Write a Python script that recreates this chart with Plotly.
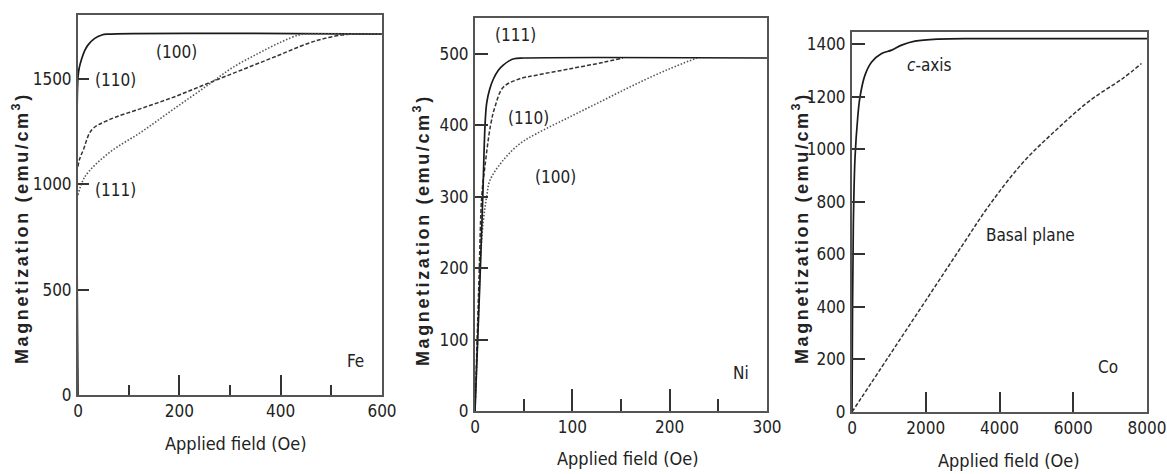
import plotly.graph_objects as go

# ---------------- data ----------------
# Fe panel
fe_h_100 = [0, 0, 3, 7, 13, 20, 33, 47, 58, 600]
fe_m_100 = [0, 1510, 1560, 1595, 1635, 1663, 1694, 1710, 1714, 1714]
fe_h_110 = [0, 3, 10.5, 27, 60, 126, 191, 257, 323, 389, 454, 487, 520, 540, 600]
fe_m_110 = [1085, 1120, 1164, 1259, 1306, 1362, 1417, 1481, 1544, 1607, 1670, 1694, 1710, 1714, 1714]
fe_h_111 = [0, 13.8, 60, 126, 191, 257, 303, 356, 402, 435, 448, 600]
fe_m_111 = [950, 1037, 1148, 1251, 1362, 1473, 1552, 1623, 1678, 1710, 1714, 1714]

# Ni panel
ni_h_111 = [0, 5, 8, 10.3, 12, 15, 19, 24, 29, 35, 40, 50, 300]
ni_m_111 = [0, 180, 300, 400, 431, 450, 465, 477, 484, 490, 493, 494, 494]
ni_h_110 = [0, 4, 6.9, 10, 16, 20.6, 29, 46, 63, 98, 132, 152]
ni_m_110 = [0, 180, 300, 340, 400, 426, 453, 465, 470, 479, 488, 494]
ni_h_100 = [0, 3, 6, 8.6, 12, 15.4, 29, 46, 63, 98, 132, 166, 200, 228]
ni_m_100 = [0, 110, 220, 267, 300, 323, 351, 374, 388, 412, 435, 458, 479, 494]

# Co panel
co_h_c = [0, 15, 36, 81, 153, 217, 352, 533, 804, 1075, 1346, 1707, 2339, 3420, 8000]
co_m_c = [0, 400, 711, 965, 1117, 1199, 1282, 1332, 1364, 1377, 1396, 1411, 1419, 1421, 1421]
co_h_basal = [0, 1000, 2000, 3000, 3740, 4640, 5550, 6450, 7350, 7850]
co_m_basal = [0, 212, 424, 636, 790, 950, 1075, 1185, 1270, 1326]

# tick values
fe_yticks = [0, 500, 1000, 1500]
fe_xticks = [0, 200, 400, 600]
ni_yticks = [0, 100, 200, 300, 400, 500]
ni_xticks = [0, 100, 200, 300]
co_yticks = [0, 200, 400, 600, 800, 1000, 1200, 1400]
co_xticks = [0, 2000, 4000, 6000, 8000]

# ---------------- layout helpers ----------------
W, H = 1167, 474


def px_x(p):
    return p / W


def px_y(p):
    return 1 - p / H


NARROW = "DejaVu Sans Condensed, Roboto Condensed, Liberation Sans Narrow, Roboto, sans-serif"
BOLD = "Liberation Sans, Arial, sans-serif"
INK = "#222222"
AXC = "#555555"

fig = go.Figure()

solid = dict(color="#1a1a1a", width=1.7)
dashed = dict(color="#333333", width=1.5, dash="4px,2px")
dotted = dict(color="#555555", width=1.6, dash="1.5px,1.8px")

# Fe
fig.add_trace(go.Scatter(x=fe_h_100, y=fe_m_100, mode="lines", line=solid, line_shape="spline", xaxis="x", yaxis="y"))
fig.add_trace(go.Scatter(x=fe_h_110, y=fe_m_110, mode="lines", line=dashed, line_shape="spline", xaxis="x", yaxis="y"))
fig.add_trace(go.Scatter(x=fe_h_111, y=fe_m_111, mode="lines", line=dotted, line_shape="spline", xaxis="x", yaxis="y"))
# Ni
fig.add_trace(go.Scatter(x=ni_h_100, y=ni_m_100, mode="lines", line=dotted, line_shape="spline", xaxis="x2", yaxis="y2"))
fig.add_trace(go.Scatter(x=ni_h_110, y=ni_m_110, mode="lines", line=dashed, line_shape="spline", xaxis="x2", yaxis="y2"))
fig.add_trace(go.Scatter(x=ni_h_111, y=ni_m_111, mode="lines", line=solid, line_shape="spline", xaxis="x2", yaxis="y2"))
# Co
fig.add_trace(go.Scatter(x=co_h_c, y=co_m_c, mode="lines", line=solid, line_shape="spline", xaxis="x3", yaxis="y3"))
fig.add_trace(go.Scatter(x=co_h_basal, y=co_m_basal, mode="lines", line=dashed, line_shape="spline", xaxis="x3", yaxis="y3"))

tickfont = dict(family=NARROW, size=17, color=INK)


def xax(dom, rng, tickvals, minor_dtick, major_len, minor_len, anchor):
    d = dict(domain=dom, range=rng, tickmode="array", tickvals=tickvals,
             ticks="inside", ticklen=major_len, tickwidth=1.6, tickcolor="#333",
             showline=True, linecolor=AXC, linewidth=2, mirror=True, automargin=False,
             showgrid=False, zeroline=False, tickfont=tickfont, ticklabelstandoff=0,
             anchor=anchor)
    if minor_dtick:
        d["minor"] = dict(dtick=minor_dtick, tick0=0, ticks="inside", ticklen=minor_len,
                          tickwidth=1.6, tickcolor="#333", showgrid=False)
    return d


def yax(dom, rng, tickvals, tlen, anchor):
    return dict(domain=dom, range=rng, tickmode="array", tickvals=tickvals,
                ticks="inside", ticklen=tlen, tickwidth=1.6, tickcolor="#333",
                showline=True, linecolor=AXC, linewidth=2, mirror=True, automargin=False,
                showgrid=False, zeroline=False, tickfont=tickfont, anchor=anchor,
                ticklabelstandoff=1)


fig.update_layout(
    template="none",
    width=W, height=H, margin=dict(l=0, r=0, t=0, b=0, autoexpand=False),
    paper_bgcolor="white", plot_bgcolor="white", showlegend=False,
    xaxis=xax([px_x(78), px_x(382)], [0, 600], fe_xticks, 100, 20, 10, "y"),
    yaxis=yax([px_y(395), px_y(15)], [0, 1805], fe_yticks, 11, "x"),
    xaxis2=xax([px_x(475), px_x(767)], [0, 300], ni_xticks, 50, 22, 12, "y2"),
    yaxis2=yax([px_y(411), px_y(18)], [0, 550], ni_yticks, 13, "x2"),
    xaxis3=xax([px_x(852), px_x(1147)], [0, 8000], co_xticks, None, 20, 0, "y3"),
    yaxis3=yax([px_y(412), px_y(32)], [0, 1446], co_yticks, 13, "x3"),
)

ann = []
lab = dict(family=NARROW, size=17, color=INK)
# Fe labels
ann += [
    dict(x=195, y=1630, xref="x", yref="y", text="(100)", showarrow=False, font=lab),
    dict(x=30, y=1496, xref="x", yref="y", text="(110)", showarrow=False, font=lab, xanchor="left"),
    dict(x=30, y=974, xref="x", yref="y", text="(111)", showarrow=False, font=lab, xanchor="left"),
    dict(x=548, y=162, xref="x", yref="y", text="Fe", showarrow=False, font=lab),
]
# Ni labels
ann += [
    dict(x=18, y=526, xref="x2", yref="y2", text="(111)", showarrow=False, font=lab, xanchor="left"),
    dict(x=32, y=410, xref="x2", yref="y2", text="(110)", showarrow=False, font=lab, xanchor="left"),
    dict(x=60, y=327, xref="x2", yref="y2", text="(100)", showarrow=False, font=lab, xanchor="left"),
    dict(x=273, y=53, xref="x2", yref="y2", text="Ni", showarrow=False, font=lab),
]
# Co labels
ann += [
    dict(x=2114, y=1320, xref="x3", yref="y3", text="<i>c</i>-axis", showarrow=False, font=lab),
    dict(x=4850, y=673, xref="x3", yref="y3", text="Basal plane", showarrow=False, font=lab),
    dict(x=6940, y=171, xref="x3", yref="y3", text="Co", showarrow=False, font=lab),
]

# axis titles
xt_font = dict(family=NARROW, size=18, color=INK)
for cx, cy in [(235, 443), (627, 458), (1008, 460)]:
    ann.append(dict(x=px_x(cx), y=px_y(cy), xref="paper", yref="paper", text="Applied field (Oe)",
                    showarrow=False, font=xt_font, xanchor="center", yanchor="middle"))
yt_font = dict(family=BOLD, size=18, color=INK, weight="bold")
ytext = '<span style="letter-spacing:2.6px">Magnetization (emu/cm<sup>3</sup>)</span>'
for cx, cy in [(20, 228), (421, 230), (800, 228)]:
    ann.append(dict(x=px_x(cx), y=px_y(cy), xref="paper", yref="paper", text=ytext,
                    textangle=-90, showarrow=False, font=yt_font, xanchor="center", yanchor="middle"))

fig.update_layout(annotations=ann)
fig.write_html("out.html", config={"displayModeBar": False},
               post_script="document.body.style.margin='0px';")
